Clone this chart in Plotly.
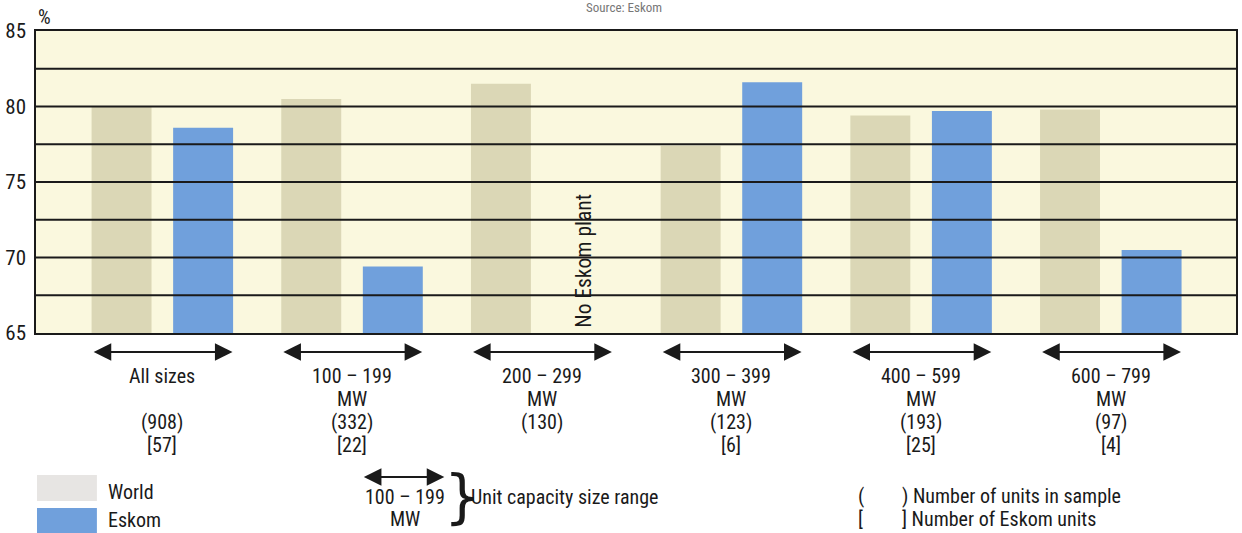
import plotly.graph_objects as go

# Capacity-size groups and the sample sizes printed beneath each one
groups = ["All sizes", "100 – 199", "200 – 299", "300 – 399", "400 – 599", "600 – 799"]
group_units = ["", "MW", "MW", "MW", "MW", "MW"]
sample_units = ["(908)", "(332)", "(130)", "(123)", "(193)", "(97)"]
eskom_units = ["[57]", "[22]", "", "[6]", "[25]", "[4]"]

# Availability, %
world = [80.0, 80.5, 81.5, 77.4, 79.4, 79.8]
eskom = [78.6, 69.4, None, 81.6, 79.7, 70.5]

y_ticks = [65, 70, 75, 80, 85]
grid_levels = [67.5, 70, 72.5, 75, 77.5, 80, 82.5]

FONT = "Liberation Sans Narrow, Arial Narrow, Roboto Condensed, Liberation Sans, sans-serif"
WORLD_C = "#DBD7B6"
ESKOM_C = "#70A0DC"
BG = "#FAF8DE"
INK = "#1a1a1a"
FS = 20

W, H = 1242, 533
ML, MR, MT, MB = 36, 4, 31, 200
PW, PH = W - ML - MR, H - MT - MB


def px(xp):
    return (xp - ML) / PW


def py(yp):
    return (H - MB - yp) / PH


fig = go.Figure()
fig.add_trace(go.Bar(x=groups, y=world, name="World", marker_color=WORLD_C,
                     marker_line_width=0))
fig.add_trace(go.Bar(x=groups, y=eskom, name="Eskom", marker_color=ESKOM_C,
                     marker_line_width=0))

shapes = []
# horizontal rules drawn over the bars
for lv in grid_levels:
    shapes.append(dict(type="line", xref="paper", yref="y", x0=0, x1=1, y0=lv, y1=lv,
                       line=dict(color=INK, width=2), layer="above"))

# legend swatches
shapes.append(dict(type="rect", xref="paper", yref="paper", x0=px(37), x1=px(97),
                   y0=py(501), y1=py(475), fillcolor="#E7E5E3", line_width=0))
shapes.append(dict(type="rect", xref="paper", yref="paper", x0=px(37), x1=px(97),
                   y0=py(540), y1=py(508), fillcolor=ESKOM_C, line_width=0))

ann = []
# double-headed arrows spanning each size group
for i in range(len(groups)):
    ann.append(dict(x=i + 0.37, y=py(352), xref="x", yref="paper",
                    ax=i - 0.37, ay=0, axref="x", ayref="pixel",
                    text="", showarrow=True, arrowhead=2, arrowside="end+start",
                    arrowsize=1.6, arrowwidth=2.2, arrowcolor=INK))

# group labels, one row per line of text
row_y = [376, 399, 422, 445]
for i in range(len(groups)):
    for r, txt in enumerate([groups[i], group_units[i], sample_units[i], eskom_units[i]]):
        if txt:
            ann.append(dict(x=i, y=py(row_y[r]), xref="x", yref="paper", text=txt,
                            showarrow=False, xanchor="center", yanchor="middle",
                            font=dict(size=FS, color=INK)))

ann.append(dict(x=2.22, y=65.25, xref="x", yref="y", text="No Eskom plant",
                textangle=-90, showarrow=False, yanchor="bottom", xanchor="center",
                font=dict(size=21.5, color=INK)))

ann.append(dict(x=px(36), y=py(17), xref="paper", yref="paper", text="%",
                showarrow=False, xanchor="left", yanchor="middle",
                font=dict(size=20, color=INK)))
ann.append(dict(x=px(625), y=py(7), xref="paper", yref="paper", text="Source: Eskom",
                showarrow=False, xanchor="center", yanchor="middle",
                font=dict(size=13, color="#777")))

# legend text
ann.append(dict(x=px(106), y=py(492), xref="paper", yref="paper", text="World",
                showarrow=False, xanchor="left", yanchor="middle",
                font=dict(size=FS, color=INK)))
ann.append(dict(x=px(106), y=py(520), xref="paper", yref="paper", text="Eskom",
                showarrow=False, xanchor="left", yanchor="middle",
                font=dict(size=FS, color=INK)))

# size-range key
ann.append(dict(x=px(445), y=py(477), xref="paper", yref="paper",
                ax=-82, ay=0, axref="pixel", ayref="pixel",
                text="", showarrow=True, arrowhead=2, arrowside="end+start",
                arrowsize=1.6, arrowwidth=2.2, arrowcolor=INK))
ann.append(dict(x=px(406), y=py(497), xref="paper", yref="paper",
                text="100 – 199", showarrow=False, xanchor="center",
                yanchor="middle", font=dict(size=FS, color=INK)))
ann.append(dict(x=px(406), y=py(519), xref="paper", yref="paper",
                text="MW", showarrow=False, xanchor="center",
                yanchor="middle", font=dict(size=FS, color=INK)))
ann.append(dict(x=px(463), y=py(497), xref="paper", yref="paper", text="}",
                showarrow=False, xanchor="center", yanchor="middle",
                font=dict(size=58, color=INK,
                          family="Liberation Sans Narrow, DejaVu Sans, sans-serif")))
ann.append(dict(x=px(470), y=py(497), xref="paper", yref="paper",
                text="Unit capacity size range", showarrow=False, xanchor="left",
                yanchor="middle", font=dict(size=FS, color=INK)))

# bracket key
key_rows = [(496, "(", ") Number of units in sample"),
            (519, "[", "] Number of Eskom units")]
for yp, opener, label in key_rows:
    ann.append(dict(x=px(857), y=py(yp), xref="paper", yref="paper", text=opener,
                    showarrow=False, xanchor="left", yanchor="middle",
                    font=dict(size=FS, color=INK)))
    ann.append(dict(x=px(901), y=py(yp), xref="paper", yref="paper", text=label,
                    showarrow=False, xanchor="left", yanchor="middle",
                    font=dict(size=FS, color=INK)))

fig.update_layout(
    width=W, height=H, autosize=False,
    margin=dict(l=ML, r=MR, t=MT, b=MB),
    paper_bgcolor="white", plot_bgcolor=BG,
    barmode="group", bargap=0.14, bargroupgap=0.265,
    showlegend=False,
    font=dict(family=FONT, size=FS, color=INK),
    shapes=shapes, annotations=ann,
)
fig.update_xaxes(
    range=[-0.666, 5.66], showticklabels=False,
    showgrid=False, showline=True, linecolor=INK, linewidth=1.5, mirror=True,
    ticks="",
)
fig.update_yaxes(
    range=[65, 85], tickvals=y_ticks, ticktext=[str(v) for v in y_ticks],
    showgrid=False, zeroline=False, showline=True, linecolor=INK, linewidth=1.5,
    mirror=True, ticks="", ticklabelstandoff=4, tickfont=dict(size=21, color=INK),
)

fig.write_html("out.html")
